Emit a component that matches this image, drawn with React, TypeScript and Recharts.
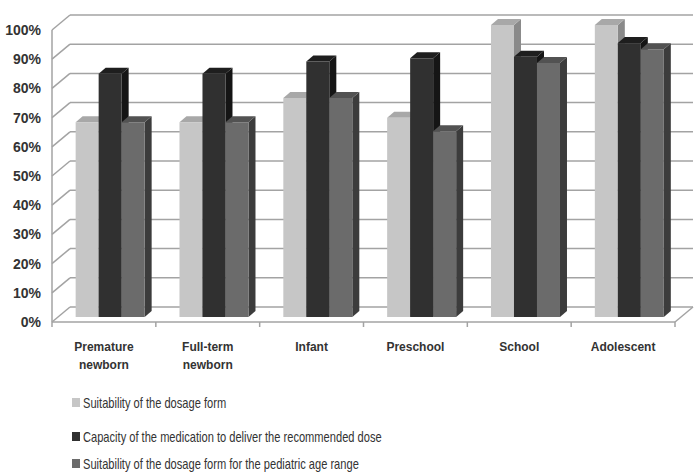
import React from 'react'
import { BarChart, Bar, XAxis, YAxis, CartesianGrid } from 'recharts'

const categories = ['Premature\nnewborn', 'Full-term\nnewborn', 'Infant', 'Preschool', 'School', 'Adolescent']
const dosageForm = [66.7, 66.7, 75, 68.2, 100, 100]
const deliverDose = [83.3, 83.3, 87.5, 88.6, 89.1, 93.8]
const ageRange = [66.7, 66.7, 75, 63.6, 87.0, 91.7]
const yTicks = [0, 10, 20, 30, 40, 50, 60, 70, 80, 90, 100]

const seriesNames = [
  'Suitability of the dosage form',
  'Capacity of the medication to deliver the recommended dose',
  'Suitability of the dosage form for the pediatric age range',
]

// front / top / side shades for each series
const shades = [
  { front: '#c6c6c6', top: '#a8a8a8', side: '#8a8a8a' },
  { front: '#303030', top: '#1e1e1e', side: '#151515' },
  { front: '#6b6b6b', top: '#525252', side: '#3c3c3c' },
]

const data = categories.map((name, i) => ({
  name,
  dosageForm: dosageForm[i],
  deliverDose: deliverDose[i],
  ageRange: ageRange[i],
}))

const W = 699
const H = 472
const X_AXIS_H = 30
const MARGIN = { top: 30, right: 24, bottom: 150 - X_AXIS_H, left: 0 }
const AXIS_W = 52
const PLOT_W = W - MARGIN.right - AXIS_W
const BAND = PLOT_W / categories.length

// depth of the floor / back wall, and of the bars themselves
const WALL_DX = 18
const WALL_DY = -15
const BAR_SHIFT_X = 6
const BAR_SHIFT_Y = -5
const BAR_DX = 7
const BAR_DY = -6

const GRID = '#a3a3a3'
const TEXT = '#333333'

// legend row centres
const legendRows = [402, 436, 463]

function Bar3D(shade: { front: string; top: string; side: string }) {
  return (props: any) => {
    const { x, y, width, height } = props
    if (height == null || width == null) return null
    const fx = x + BAR_SHIFT_X
    const fy = y + BAR_SHIFT_Y
    const top = `${fx},${fy} ${fx + width},${fy} ${fx + width + BAR_DX},${fy + BAR_DY} ${fx + BAR_DX},${fy + BAR_DY}`
    const side = `${fx + width},${fy} ${fx + width + BAR_DX},${fy + BAR_DY} ${fx + width + BAR_DX},${fy + height + BAR_DY} ${fx + width},${fy + height}`
    return (
      <g>
        <polygon points={side} fill={shade.side} />
        <polygon points={top} fill={shade.top} />
        <rect x={fx} y={fy} width={width} height={height} fill={shade.front} />
      </g>
    )
  }
}

function YTick(props: any) {
  const { x, y, payload } = props
  return (
    <g>
      <line x1={x} y1={y} x2={x + WALL_DX} y2={y + WALL_DY} stroke={GRID} strokeWidth={1.5} />
      <text x={x - 11} y={y + 5} textAnchor="end" fontSize={14} fontWeight={700} fill={TEXT}>
        {payload.value}%
      </text>
    </g>
  )
}

function XTick(props: any) {
  const { x, y, payload, index } = props
  const lines = String(payload.value).split('\n')
  const left = x - BAND / 2
  const right = x + BAND / 2
  const last = index === categories.length - 1
  return (
    <g>
      <line x1={left} y1={y} x2={left} y2={y + 5} stroke={GRID} strokeWidth={1.5} />
      {last && (
        <>
          <line x1={right} y1={y} x2={right} y2={y + 5} stroke={GRID} strokeWidth={1.5} />
          <line x1={right} y1={y} x2={right + WALL_DX} y2={y + WALL_DY} stroke={GRID} strokeWidth={1.5} />
        </>
      )}
      {lines.map((l, i) => (
        <text key={i} x={x} y={y + 29 + i * 18} textAnchor="middle" fontSize={12} fontWeight={700} fill={TEXT}>
          {l}
        </text>
      ))}
    </g>
  )
}

function BackLine(props: any) {
  const { x1, x2, y1, y2 } = props
  return (
    <line
      key={`g-${y1}`}
      x1={x1 + WALL_DX}
      x2={x2 + WALL_DX}
      y1={y1 + WALL_DY}
      y2={y2 + WALL_DY}
      stroke={GRID}
      strokeWidth={1.5}
    />
  )
}

export default function App() {
  return (
    <div
      style={{
        position: 'absolute',
        left: 0,
        top: 0,
        width: W,
        height: H,
        background: '#fff',
        overflow: 'hidden',
        fontFamily: '"Liberation Sans", Arial, sans-serif',
      }}
    >
      <BarChart width={W} height={H} data={data} margin={MARGIN} barCategoryGap="17%" barGap={0}>
        <CartesianGrid vertical={false} horizontal={BackLine} />
        <YAxis
          width={AXIS_W}
          domain={[0, 100]}
          ticks={yTicks}
          interval={0}
          tickSize={0}
          tickMargin={0}
          tickLine={false}
          axisLine={{ stroke: GRID, strokeWidth: 1.5 }}
          tick={<YTick />}
        />
        <XAxis
          dataKey="name"
          height={X_AXIS_H}
          interval={0}
          tickSize={0}
          tickMargin={0}
          tickLine={false}
          axisLine={{ stroke: GRID, strokeWidth: 1.5 }}
          tick={<XTick />}
        />
        <Bar dataKey="dosageForm" shape={Bar3D(shades[0])} isAnimationActive={false} />
        <Bar dataKey="deliverDose" shape={Bar3D(shades[1])} isAnimationActive={false} />
        <Bar dataKey="ageRange" shape={Bar3D(shades[2])} isAnimationActive={false} />
      </BarChart>
      {seriesNames.map((n, i) => (
        <div
          key={n}
          style={{
            position: 'absolute',
            left: 72,
            top: legendRows[i] - 9,
            height: 18,
            display: 'flex',
            alignItems: 'center',
            fontSize: 15,
            color: TEXT,
          }}
        >
          <span style={{ width: 8, height: 9, background: shades[i].front, marginRight: 3, flex: 'none' }} />
          <span style={{ display: 'inline-block', whiteSpace: 'nowrap', transform: 'scaleX(0.74)', transformOrigin: 'left center' }}>
            {n}
          </span>
        </div>
      ))}
    </div>
  )
}
